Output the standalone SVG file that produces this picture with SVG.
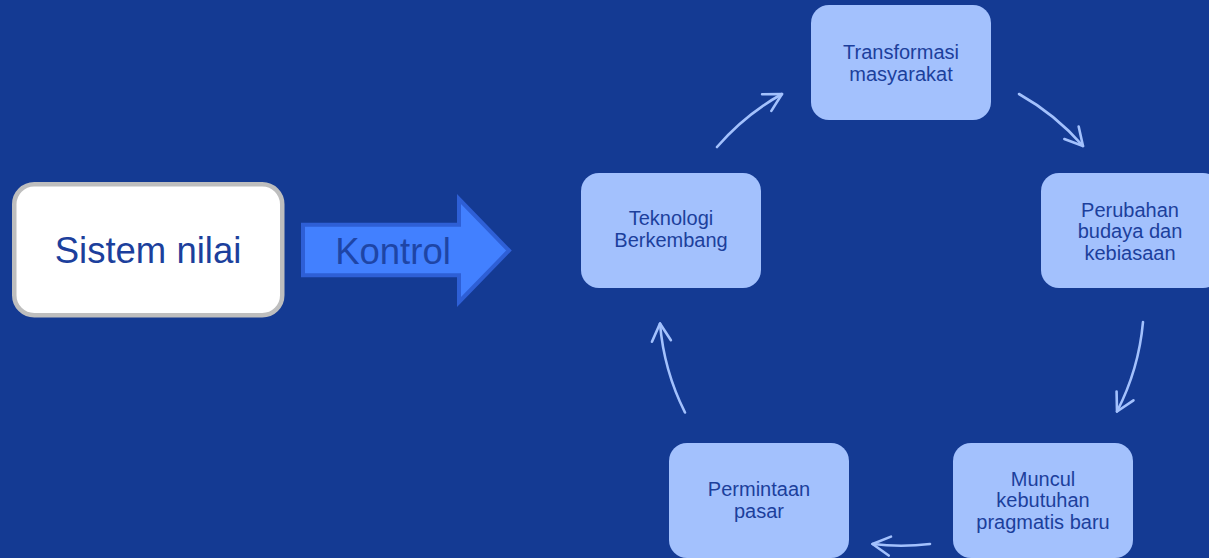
<svg xmlns="http://www.w3.org/2000/svg" width="1209" height="558" viewBox="0 0 1209 558">
<style>
.node rect{fill:#A3C1FD;}
.node text{font-family:"Liberation Sans",Arial,sans-serif;font-size:20px;fill:#1C3F9C;text-anchor:middle;}
.conn path{fill:none;stroke:#A3C1FD;stroke-width:2.6;stroke-linecap:round;}
</style>
<defs>
<marker id="ah" markerUnits="userSpaceOnUse" markerWidth="40" markerHeight="40" refX="0" refY="0" viewBox="-25 -20 40 40" orient="auto" overflow="visible">
<path d="M -17.5 -9.5 L 0 0 L -17.5 9.5" fill="none" stroke="#A3C1FD" stroke-width="2.6" stroke-linecap="round" stroke-linejoin="round"/>
</marker>
</defs>
<rect x="0" y="0" width="1209" height="558" fill="#143A93"/>
<g id="sistem-nilai">
<rect x="14.25" y="184.25" width="268" height="131" rx="20" fill="#FFFFFF" stroke="#BEBEBE" stroke-width="4.5"/>
<text x="148" y="263" font-family="'Liberation Sans',Arial,sans-serif" font-size="36.5" fill="#1C3F9C" text-anchor="middle">Sistem nilai</text>
</g>
<g id="kontrol">
<polygon points="303,224.7 459,224.7 459,199 509,250.5 459,302 459,275.3 303,275.3" fill="#4280FF" stroke="#2E5FD6" stroke-width="4" stroke-linejoin="miter"/>
<text x="393" y="264" font-family="'Liberation Sans',Arial,sans-serif" font-size="36.5" fill="#1E45A6" text-anchor="middle">Kontrol</text>
</g>
<g id="transformasi" class="node">
<rect x="811" y="5" width="180" height="115" rx="18"/>
<text x="901" y="59">Transformasi</text>
<text x="901" y="81">masyarakat</text>
</g>
<g id="perubahan" class="node">
<rect x="1041" y="173" width="180" height="115" rx="18"/>
<text x="1130" y="216.5">Perubahan</text>
<text x="1130" y="238">budaya dan</text>
<text x="1130" y="259.5">kebiasaan</text>
</g>
<g id="muncul" class="node">
<rect x="953" y="443" width="180" height="115" rx="18"/>
<text x="1043" y="485.5">Muncul</text>
<text x="1043" y="507">kebutuhan</text>
<text x="1043" y="528.5">pragmatis baru</text>
</g>
<g id="permintaan" class="node">
<rect x="669" y="443" width="180" height="115" rx="18"/>
<text x="759" y="496">Permintaan</text>
<text x="759" y="517.5">pasar</text>
</g>
<g id="teknologi" class="node">
<rect x="581" y="173" width="180" height="115" rx="18"/>
<text x="671" y="225">Teknologi</text>
<text x="671" y="247">Berkembang</text>
</g>
<g id="connectors" class="conn">
<path d="M 717 147 A 242 242 0 0 1 782 94" marker-end="url(#ah)"/>
<path d="M 1019 94 A 242 242 0 0 1 1083 146" marker-end="url(#ah)"/>
<path d="M 1143 322 A 242 242 0 0 1 1117 411.5" marker-end="url(#ah)"/>
<path d="M 930 544 A 242 242 0 0 1 872.5 544" marker-end="url(#ah)"/>
<path d="M 685 412.5 A 242 242 0 0 1 660 323.5" marker-end="url(#ah)"/>
</g>
</svg>
